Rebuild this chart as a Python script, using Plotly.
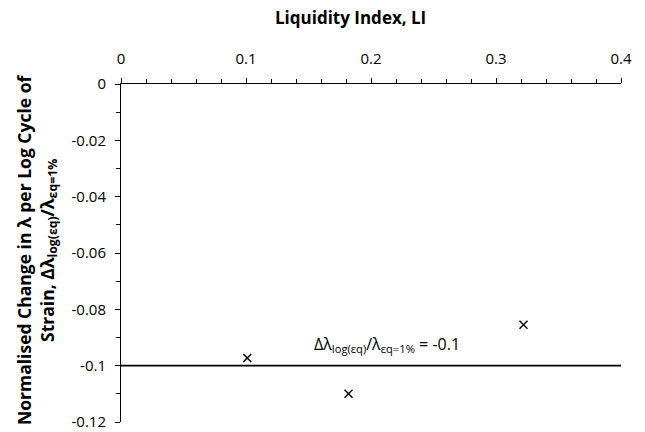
import plotly.graph_objects as go

li = [0.101, 0.182, 0.322]
dl = [-0.0973, -0.1100, -0.0855]
ref_x = [0, 0.4]
ref_y = [-0.1, -0.1]
x_ticks = [0, 0.1, 0.2, 0.3, 0.4]
x_labels = ["0", "0.1", "0.2", "0.3", "0.4"]
y_ticks = [0, -0.02, -0.04, -0.06, -0.08, -0.1, -0.12]
y_labels = ["0", "-0.02", "-0.04", "-0.06", "-0.08", "-0.1", "-0.12"]

FONT = "Open Sans"

fig = go.Figure()
fig.add_trace(go.Scatter(x=ref_x, y=ref_y, mode="lines",
                         line=dict(color="black", width=1.6), showlegend=False,
                         hoverinfo="skip"))
fig.add_trace(go.Scatter(x=li, y=dl, mode="markers",
                         marker=dict(symbol="x-thin", size=8, color="black",
                                     line=dict(color="black", width=1.5)),
                         showlegend=False))

fig.add_annotation(x=0.213, y=-0.0926, xref="x", yref="y",
                   text="Δλ<sub>log(εq)</sub>/λ<sub>εq=1%</sub> = -0.1",
                   showarrow=False, font=dict(family=FONT, size=16, color="black"))

# axis titles
fig.add_annotation(x=350, y=432 - 18, xref="paper", yref="paper",
                   text="<b>Liquidity Index, LI</b>", showarrow=False,
                   xanchor="center", yanchor="middle",
                   font=dict(family=FONT, size=17, color="black"))
fig.add_annotation(x=37, y=432 - 250, xref="paper", yref="paper",
                   text="<b>Normalised Change in λ per Log Cycle of<br>Strain, Δλ<sub>log(εq)</sub>/λ<sub>εq=1%</sub></b>",
                   showarrow=False, textangle=-90,
                   xanchor="center", yanchor="middle",
                   font=dict(family=FONT, size=17.5, color="black"))

# convert pixel-positioned annotations to paper fractions
L, R, T, B = 121, 24, 84, 10
W, H = 645, 432
pw, ph = W - L - R, H - T - B
for a in fig.layout.annotations:
    if a.xref == "paper":
        a.x = (a.x - L) / pw
        a.y = (a.y - B) / ph

fig.update_layout(
    width=W, height=H,
    margin=dict(l=L, r=R, t=T, b=B, autoexpand=False),
    paper_bgcolor="white", plot_bgcolor="white",
    font=dict(family=FONT, color="black"),
    xaxis=dict(
        side="top", range=[0, 0.4], tickvals=x_ticks, ticktext=x_labels,
        ticks="outside", ticklen=5, tickwidth=1, tickcolor="black",
        minor=dict(dtick=0.02, ticks="outside", ticklen=4, tickcolor="black", tickwidth=1),
        showline=True, linecolor="black", linewidth=1, showgrid=False, zeroline=False,
        tickfont=dict(family=FONT, size=15), ticklabelstandoff=8, automargin=False,
    ),
    yaxis=dict(
        range=[-0.12, 0], tickvals=y_ticks, ticktext=y_labels,
        ticks="outside", ticklen=5, tickwidth=1, tickcolor="black",
        minor=dict(dtick=0.01, ticks="outside", ticklen=4, tickcolor="black", tickwidth=1),
        showline=True, linecolor="black", linewidth=1, showgrid=False, zeroline=False,
        tickfont=dict(family=FONT, size=15), ticklabelstandoff=6, automargin=False,
    ),
)

fig.write_html("out.html")
